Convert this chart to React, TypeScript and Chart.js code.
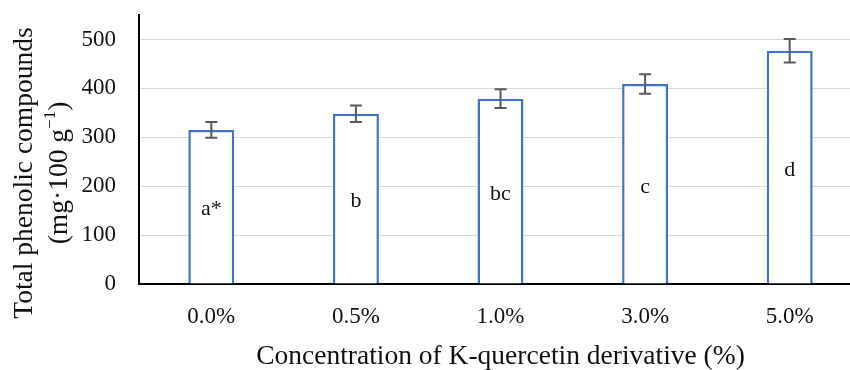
import React, { useEffect, useRef } from 'react';
import { Chart, registerables } from 'chart.js';

Chart.register(...registerables);

// Total phenolic compounds by K-quercetin derivative concentration
const concentrations = ['0.0%', '0.5%', '1.0%', '3.0%', '5.0%'];
const phenolicMeans = [315, 348, 379, 409, 477];
const phenolicSD = [16, 17, 19, 20, 24];
const groupLetters = ['a*', 'b', 'bc', 'c', 'd'];
const yTickValues = [0, 100, 200, 300, 400, 500];
const yAxisMax = 550;

const xTitle = 'Concentration of K-quercetin derivative (%)';
const yTitleLine1 = 'Total phenolic compounds';
const yTitleLine2Parts = ['(mg·100 g', '−1', ')'];

const SERIF = '"Liberation Serif", "Times New Roman", serif';

const decorations = {
  id: 'decorations',
  afterDatasetsDraw(chart: any) {
    const { ctx } = chart;
    const yScale = chart.scales.y;
    const meta = chart.getDatasetMeta(0);
    ctx.save();
    meta.data.forEach((bar: any, i: number) => {
      const { x, y, base } = bar.getProps(['x', 'y', 'base'], true);
      const hi = yScale.getPixelForValue(phenolicMeans[i] + phenolicSD[i]);
      const lo = yScale.getPixelForValue(phenolicMeans[i] - phenolicSD[i]);
      const cap = 6;
      ctx.strokeStyle = '#595959';
      ctx.lineWidth = 2;
      ctx.beginPath();
      ctx.moveTo(x, hi);
      ctx.lineTo(x, lo);
      ctx.moveTo(x - cap, hi);
      ctx.lineTo(x + cap, hi);
      ctx.moveTo(x - cap, lo);
      ctx.lineTo(x + cap, lo);
      ctx.stroke();

      // significance letter centred in the bar
      ctx.fillStyle = '#111';
      ctx.font = `22px ${SERIF}`;
      ctx.textAlign = 'center';
      ctx.textBaseline = 'middle';
      ctx.fillText(groupLetters[i], x, (y + base) / 2 + 3);
    });
    ctx.restore();
  },
  afterDraw(chart: any) {
    const { ctx, chartArea } = chart;
    ctx.save();
    ctx.fillStyle = '#111';
    ctx.textBaseline = 'middle';

    // x-axis title
    ctx.font = `27.5px ${SERIF}`;
    ctx.textAlign = 'center';
    ctx.fillText(xTitle, (chartArea.left + chartArea.right) / 2, 357);

    // y-axis title, two rotated lines
    ctx.translate(0, 173);
    ctx.rotate(-Math.PI / 2);
    ctx.fillText(yTitleLine1, 0, 25);

    const [pre, sup, post] = yTitleLine2Parts;
    const bigFont = `27.5px ${SERIF}`;
    const smallFont = `17px ${SERIF}`;
    ctx.font = bigFont;
    const wPre = ctx.measureText(pre).width;
    const wPost = ctx.measureText(post).width;
    ctx.font = smallFont;
    const wSup = ctx.measureText(sup).width;
    let cx = -(wPre + wSup + wPost) / 2;
    ctx.textAlign = 'left';
    ctx.font = bigFont;
    ctx.fillText(pre, cx, 60);
    cx += wPre;
    ctx.font = smallFont;
    ctx.fillText(sup, cx, 60 - 9);
    cx += wSup;
    ctx.font = bigFont;
    ctx.fillText(post, cx, 60);
    ctx.restore();
  },
};

const noScalePadding = (scale: any) => {
  scale.paddingTop = 0;
  scale.paddingBottom = 0;
  scale.paddingLeft = 0;
  scale.paddingRight = 0;
};

export default function App() {
  const canvasRef = useRef<HTMLCanvasElement | null>(null);

  useEffect(() => {
    const canvas = canvasRef.current;
    if (!canvas) return;
    const chart = new Chart(canvas, {
      type: 'bar',
      data: {
        labels: concentrations,
        datasets: [
          {
            data: phenolicMeans,
            backgroundColor: '#ffffff',
            borderColor: '#4472C4',
            borderWidth: 2.5,
            categoryPercentage: 0.318,
            barPercentage: 1,
          },
        ],
      },
      options: {
        responsive: false,
        animation: false,
        devicePixelRatio: 1,
        layout: { padding: { top: 15, right: 8, left: 0, bottom: 0 } },
        plugins: {
          legend: { display: false },
          tooltip: { enabled: false },
        },
        scales: {
          x: {
            grid: { display: false, drawTicks: false },
            border: { display: true, color: '#000', width: 2 },
            ticks: {
              color: '#111',
              font: { family: SERIF, size: 23 },
              padding: 19,
            },
            afterFit: (scale: any) => {
              scale.height = 86;
              noScalePadding(scale);
            },
          },
          y: {
            min: 0,
            max: yAxisMax,
            grid: { color: '#d9d9d9', lineWidth: 1, drawTicks: false },
            border: { display: true, color: '#000', width: 2 },
            ticks: {
              color: '#111',
              font: { family: SERIF, size: 23 },
              padding: 23,
              stepSize: 100,
            },
            afterBuildTicks: (scale: any) => {
              scale.ticks = yTickValues.map((v) => ({ value: v }));
            },
            afterFit: (scale: any) => {
              scale.width = 139;
              noScalePadding(scale);
            },
          },
        },
      },
      plugins: [decorations],
    });
    return () => chart.destroy();
  }, []);

  return (
    <div
      style={{
        position: 'fixed',
        left: 0,
        top: 0,
        width: 850,
        height: 370,
        overflow: 'hidden',
        background: '#fff',
      }}
    >
      <canvas ref={canvasRef} width={870} height={370} style={{ display: 'block' }} />
    </div>
  );
}
